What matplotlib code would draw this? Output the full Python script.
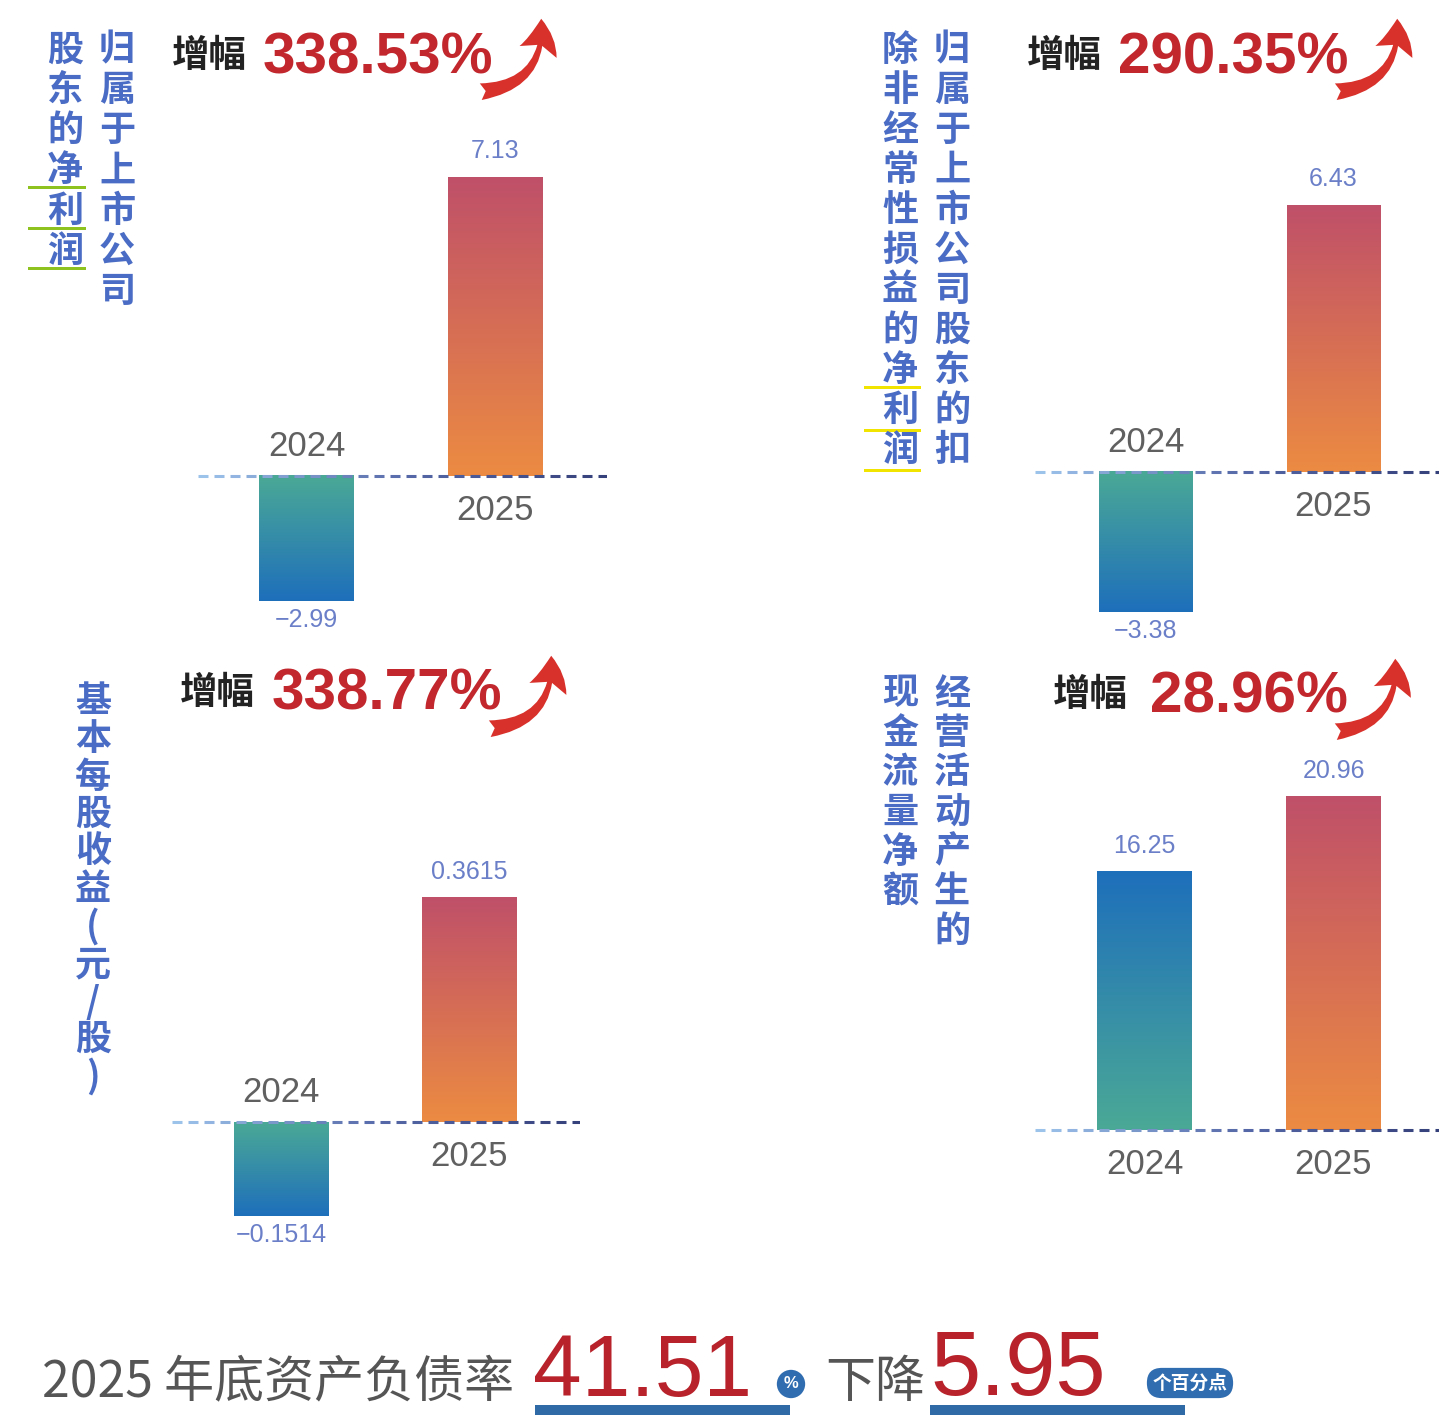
import numpy as np
import matplotlib
matplotlib.use("Agg")
import matplotlib.pyplot as plt
from matplotlib.colors import LinearSegmentedColormap, to_rgb
from matplotlib.collections import LineCollection
from matplotlib.patches import FancyArrowPatch, Rectangle

plt.rcParams['font.family'] = ['Liberation Sans', 'Noto Sans CJK SC', 'DejaVu Sans']
CJK = ['Noto Sans CJK SC', 'DejaVu Sans']

# ---------------- data ----------------
years = ["2024", "2025"]
net_profit = [-2.99, 7.13]
net_profit_ex = [-3.38, 6.43]
basic_eps = [-0.1514, 0.3615]
op_cash = [16.25, 20.96]
decimals = [2, 2, 4, 2]
growth_labels = ["338.53%", "290.35%", "338.77%", "28.96%"]
growth_prefix = "增幅"
title_cols = [
    ["归属于上市公司", "股东的净利润"],
    ["归属于上市公司股东的扣", "除非经常性损益的净利润"],
    ["基本每股收益(元/股)"],
    ["经营活动产生的", "现金流量净额"],
]
debt_ratio_label = "2025 年底资产负债率"
debt_ratio = "41.51"
debt_unit = "%"
decline_label = "下降"
decline = "5.95"
decline_unit = "个百分点"

series = [net_profit, net_profit_ex, basic_eps, op_cash]

# ---------------- layout (pixels) ----------------
W, H = 1439, 1415
fig = plt.figure(figsize=(W / 100, H / 100), dpi=100)
fig.patch.set_facecolor('white')

def fx(x):
    return x / W

def fy(y):
    return 1 - y / H

panels = [
    dict(xl=198, xr=607, c0=306.5, c1=495.5, zero=476, top=177, yt=100, yb=650,
         cols_x=[117, 65], col_y0=50, pitch=40.3,
         gx=172, gy=56, px=263, arrow=((478, 92), (541, 16)),
         marks=dict(color='#8dc21f', x0=28, x1=86, ys=[187, 228, 268])),
    dict(xl=1035, xr=1439, c0=1146, c1=1333.5, zero=472, top=205, yt=100, yb=650,
         cols_x=[952, 900], col_y0=50, pitch=40.0,
         gx=1027, gy=56, px=1118, arrow=((1333, 92), (1397, 16)),
         marks=dict(color='#f0e400', x0=864, x1=921, ys=[387, 430, 470])),
    dict(xl=172, xr=580, c0=281, c1=469.5, zero=1122, top=898, yt=760, yb=1290,
         cols_x=[93], col_y0=702, pitch=37.5,
         gx=180, gy=692, px=272, arrow=((487, 729), (551, 653)),
         marks=None),
    dict(xl=1035, xr=1439, c0=1144.5, c1=1333.5, zero=1130, top=797, yt=760, yb=1290,
         cols_x=[952, 900], col_y0=694, pitch=39.5,
         gx=1053, gy=695, px=1150, arrow=((1333, 732), (1395, 656)),
         marks=None),
]

c2024 = ('#4aa996', '#1e6fbb')   # base colour, tip colour
c2025 = ('#ec8b42', '#bf5069')
year_col = '#606060'
val_col = '#6a7fc8'
title_col = '#4a6cc4'
red = '#c1272d'

zero_cmap = LinearSegmentedColormap.from_list('zero', ['#9cc3ea', '#5668a8', '#333f78'])


def gradient_bar(ax, bar, base_col, tip_col):
    x0, w, h = bar.get_x(), bar.get_width(), bar.get_height()
    t = np.linspace(0, 1, 256)[:, None]
    b = np.array(to_rgb(base_col))
    tp = np.array(to_rgb(tip_col))
    grad = (1 - t) * b + t * tp
    if h < 0:
        grad = grad[::-1]
    ax.imshow(grad[:, None, :], extent=(x0, x0 + w, min(0, h), max(0, h)),
              origin='lower', aspect='auto', zorder=2, interpolation='bilinear')
    bar.set_alpha(0)


for k, (p, vals) in enumerate(zip(panels, series)):
    unit = p['c1'] - p['c0']
    scale = (p['zero'] - p['top']) / max(vals)
    ax = fig.add_axes([fx(p['xl']), fy(p['yb']), (p['xr'] - p['xl']) / W, (p['yb'] - p['yt']) / H])
    ax.set_axis_off()
    xlim = ((p['xl'] - p['c0']) / unit, (p['xr'] - p['c0']) / unit)
    ylim = (-(p['yb'] - p['zero']) / scale, (p['zero'] - p['yt']) / scale)
    xs = np.arange(len(years))
    bars = ax.bar(xs, vals, width=0.5, zorder=1)
    for b, cols in zip(bars, [c2024, c2025]):
        gradient_bar(ax, b, *cols)

    # dashed gradient zero line
    dash, gap = 10 / unit, 6 / unit
    starts = np.arange(xlim[0], xlim[1], dash + gap)
    segs = [[(s, 0), (min(s + dash, xlim[1]), 0)] for s in starts]
    frac = (starts - xlim[0]) / (xlim[1] - xlim[0])
    ax.add_collection(LineCollection(segs, colors=zero_cmap(frac), linewidths=2.2,
                                     zorder=4, capstyle='butt'))
    ax.set_xlim(*xlim)
    ax.set_ylim(*ylim)

    for i, v in enumerate(vals):
        lab = f"{abs(v):.{decimals[k]}f}"
        if v < 0:
            lab = "\u2212" + lab
            ax.annotate(lab, (i, v), xytext=(0, -19 * 0.72), textcoords='offset points',
                        ha='center', va='center', fontsize=18, color=val_col)
            ax.annotate(years[i], (i, 0), xytext=(0, 30 * 0.72), textcoords='offset points',
                        ha='center', va='center', fontsize=25, color=year_col)
        else:
            ax.annotate(lab, (i, v), xytext=(0, 26 * 0.72), textcoords='offset points',
                        ha='center', va='center', fontsize=18, color=val_col)
            ax.annotate(years[i], (i, 0), xytext=(0, -35 * 0.72), textcoords='offset points',
                        ha='center', va='center', fontsize=25, color=year_col)

    # growth header
    fig.text(fx(p['gx']), fy(p['gy']), growth_prefix, family=CJK, fontsize=27,
             fontweight='bold', color='#222222', ha='left', va='center')
    fig.text(fx(p['px']), fy(p['gy'] + 2), growth_labels[k], fontsize=42,
             fontweight='bold', color=red, ha='left', va='center')
    (ax_, ay_), (bx_, by_) = p['arrow']
    arr = FancyArrowPatch((fx(ax_), fy(ay_)), (fx(bx_), fy(by_)), transform=fig.transFigure,
                          connectionstyle='arc3,rad=0.5',
                          arrowstyle='fancy,head_length=0.6,head_width=0.7,tail_width=0.3',
                          mutation_scale=40, color='#d8302a', lw=0)
    fig.patches.append(arr)

    # vertical titles
    for cx, col in zip(p['cols_x'], title_cols[k]):
        for j, ch in enumerate(col):
            fig.text(fx(cx), fy(p['col_y0'] + j * p['pitch']), ch, family=CJK, fontsize=26,
                     fontweight='bold', color=title_col, ha='center', va='center')
    if p['marks']:
        m = p['marks']
        for yy in m['ys']:
            fig.patches.append(Rectangle((fx(m['x0']), fy(yy + 1.5)), (m['x1'] - m['x0']) / W, 3 / H,
                                         transform=fig.transFigure, color=m['color'], lw=0))

# ---------------- bottom line ----------------
fig.text(fx(42), fy(1383), debt_ratio_label, family=CJK, fontsize=36, fontweight='light',
         color='#555555', ha='left', va='center')
fig.text(fx(533), fy(1414), debt_ratio, fontsize=63, color='#b8222a', ha='left', va='bottom')
fig.text(fx(791), fy(1384), debt_unit, fontsize=12, fontweight='bold', color='white',
         ha='center', va='center',
         bbox=dict(boxstyle='circle,pad=0.4', fc='#2f6db0', ec='none'))
fig.text(fx(825), fy(1383), decline_label, family=CJK, fontsize=36, fontweight='light',
         color='#555555', ha='left', va='center')
fig.text(fx(930), fy(1414), decline, fontsize=65, color='#b8222a', ha='left', va='bottom')
fig.text(fx(1190), fy(1383), decline_unit, family=CJK, fontsize=13.5, fontweight='bold',
         color='white', ha='center', va='center',
         bbox=dict(boxstyle='round,pad=0.3,rounding_size=0.8', fc='#2f6db0', ec='none'))
for x0, x1 in [(535, 790), (930, 1185)]:
    fig.patches.append(Rectangle((fx(x0), 0), (x1 - x0) / W, 10 / H,
                                 transform=fig.transFigure, color='#2f6aa6', lw=0))

fig.savefig('out.png', dpi=100, facecolor='white')
